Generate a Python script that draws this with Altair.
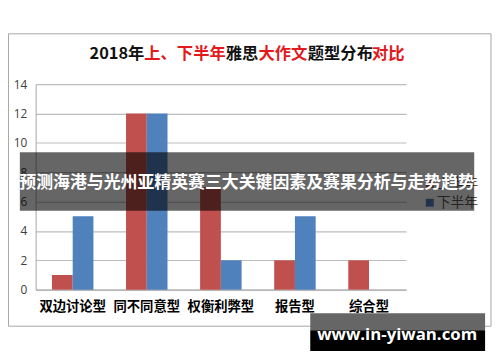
import altair as alt
import pandas as pd

categories = ["双边讨论型", "同不同意型", "权衡利弊型", "报告型", "综合型"]
series = ["上半年", "下半年"]
first_half = [1, 12, 7, 2, 2]
second_half = [5, 12, 2, 5, 0]
colors = ["#C0504D", "#4F81BD"]
y_ticks = [0, 2, 4, 6, 8, 10, 12, 14]

title_parts = ["2018年", "上、下半年", "雅思", "大作文", "题型分布", "对比"]
title_colors = ["#111111", "#E3191B", "#111111", "#E3191B", "#111111", "#E3191B"]
overlay_text = "预测海港与光州亚精英赛三大关键因素及赛果分析与走势趋势"
watermark_text = "www.in-yiwan.com"

CJK = "Noto Sans CJK SC"


def X(p):
    return p - 36


def Y(p):
    return p - 83


rows = []
for c, a, b in zip(categories, first_half, second_half):
    rows.append({"category": c, "series": series[0], "value": a})
    rows.append({"category": c, "series": series[1], "value": b})
df = pd.DataFrame(rows)
dummy = pd.DataFrame({"k": [0]})

border = alt.Chart(dummy).mark_rect(fillOpacity=0, stroke="#a6a6a6", strokeWidth=1).encode(
    x=alt.value(X(8.5)), x2=alt.value(X(497)), y=alt.value(Y(32)), y2=alt.value(Y(328))
)

# title segments (page-x left edges measured)
title_x = [146, 146, 228.5, 261.5, 311.5, 376.5]
title_align = ["right", "left", "left", "left", "left", "left"]
title_layers = []
for t, col, xx, al in zip(title_parts, title_colors, title_x, title_align):
    title_layers.append(
        alt.Chart(dummy).mark_text(
            text=t, font=CJK, fontWeight="bold", fontSize=16.5, color=col,
            align=al, baseline="middle"
        ).encode(x=alt.value(X(xx)), y=alt.value(Y(52)))
    )

bars = alt.Chart(df).mark_bar().encode(
    x=alt.X(
        "category:N", sort=categories,
        scale=alt.Scale(paddingInner=0.44, paddingOuter=0.22),
        axis=alt.Axis(
            title=None, labelAngle=0, labelFont=CJK, labelFontWeight="bold",
            labelFontSize=13.5, labelColor="#000000", ticks=False, labelPadding=10,
            domainColor="#a6a6a6", grid=False
        ),
    ),
    xOffset=alt.XOffset("series:N", sort=series, scale=alt.Scale(paddingInner=0, paddingOuter=0)),
    y=alt.Y(
        "value:Q", scale=alt.Scale(domain=[0, 14]),
        axis=alt.Axis(
            values=y_ticks, title=None, ticks=False, labelPadding=9,
            labelFont="Open Sans", labelFontSize=12, labelColor="#404040",
            gridColor="#bcbcbc", gridWidth=1.2, domainColor="#a6a6a6"
        ),
    ),
    color=alt.Color("series:N", sort=series, scale=alt.Scale(domain=series, range=colors), legend=None),
)

legend_layers = []
for i, (s, col) in enumerate(zip(series, colors)):
    yy = 184 + 19 * i
    legend_layers.append(
        alt.Chart(dummy).mark_rect(color=col).encode(
            x=alt.value(X(431)), x2=alt.value(X(439)), y=alt.value(Y(yy - 4)), y2=alt.value(Y(yy + 4))
        )
    )
    legend_layers.append(
        alt.Chart(dummy).mark_text(
            text=s, font=CJK, fontSize=14, color="#595959", align="left", baseline="middle"
        ).encode(x=alt.value(X(442)), y=alt.value(Y(yy)))
    )

overlay_rect = alt.Chart(dummy).mark_rect(color="#000000", opacity=0.6).encode(
    x=alt.value(X(20)), x2=alt.value(X(480)), y=alt.value(Y(152)), y2=alt.value(Y(211))
)
overlay_txt = alt.Chart(dummy).mark_text(
    text=overlay_text, font=CJK, fontWeight="bold", fontSize=17.1, color="#ffffff",
    align="left", baseline="middle"
).encode(x=alt.value(X(19.5)), y=alt.value(Y(183)))

wm_gray = alt.Chart(dummy).mark_rect(color="#666666").encode(
    x=alt.value(X(314)), x2=alt.value(X(491)), y=alt.value(Y(315)), y2=alt.value(Y(332))
)
wm_black = alt.Chart(dummy).mark_rect(color="#000000").encode(
    x=alt.value(X(314)), x2=alt.value(X(491)), y=alt.value(Y(332)), y2=alt.value(Y(353))
)
wm_text = alt.Chart(dummy).mark_text(
    text=watermark_text, font="Open Sans", fontWeight="bold", fontSize=17, color="#ffffff",
    align="center", baseline="middle"
).encode(x=alt.value(X(402)), y=alt.value(Y(337)))

chart = alt.layer(
    border, *title_layers, bars, *legend_layers, overlay_rect, overlay_txt, wm_gray, wm_black, wm_text
).properties(
    width=375, height=208,
    padding={"left": 28, "top": 75, "right": 87, "bottom": 63},
    autosize=alt.AutoSizeParams(type="none"),
    background="#ffffff",
).configure_view(stroke=None)

chart.save("out.html", embed_options={"renderer": "svg", "actions": False})
